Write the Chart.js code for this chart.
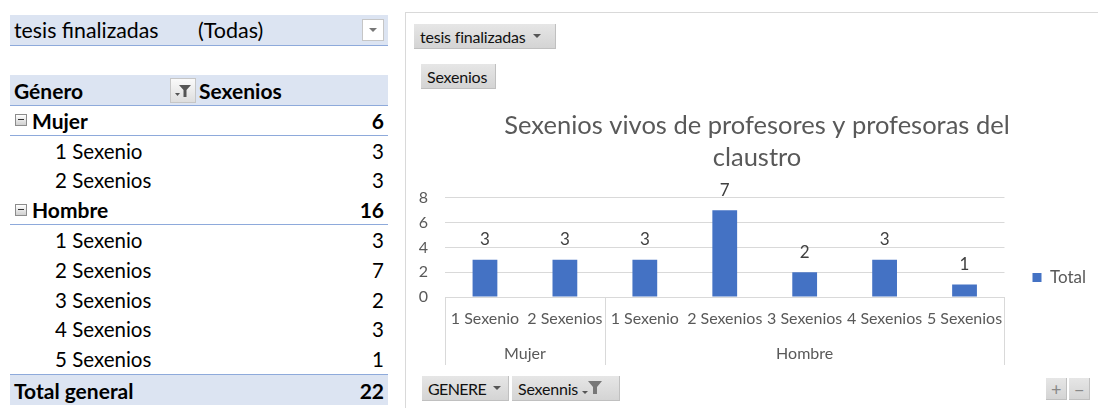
<!DOCTYPE html>
<html>
<head>
<meta charset="utf-8">
<script src="https://cdn.jsdelivr.net/npm/chart.js@4.4.0/dist/chart.umd.min.js"></script>
<style>
  body { margin: 0; width: 1098px; height: 408px; background: #fff; font-family: Lato, "Noto Sans", sans-serif; overflow: hidden; position: relative; }
  .fila { position: absolute; left: 10px; width: 378px; box-sizing: border-box; font-size: 20.5px; color: #000; display: flex; align-items: center; }
  .azul { background: #dce4f2; }
  .linea { border-bottom: 1px solid #8eaadb; }
  .lineaTop { border-top: 1px solid #8eaadb; }
  .num { position: absolute; right: 4px; }
  .b { font-weight: bold; font-size: 21px; }
  .menos { display: inline-block; width: 10px; height: 10px; border: 1px solid #8c8c8c; background: linear-gradient(#fff, #d0d0d0); margin: 0 5px 0 5px; position: relative; }
  .menos:after { content: ''; position: absolute; left: 2px; right: 2px; top: 4px; height: 1px; background: #333; }
  .caja { position: absolute; border: 1px solid #c6c6c6; background: #fff; }
  .tri { display: inline-block; width: 0; height: 0; border-left: 4px solid transparent; border-right: 4px solid transparent; border-top: 4px solid #444; }
  #panel { position: absolute; left: 405px; top: 12px; width: 700px; height: 400px; border: 1px solid #d9d9d9; box-sizing: border-box; }
  .btn { position: absolute; height: 25px; background: linear-gradient(#e6e6e6, #d4d4d4); border-right: 1px solid #c0c0c0; border-bottom: 1px solid #c0c0c0; font-size: 16px; letter-spacing: -0.2px; color: #111; display: flex; align-items: center; padding: 0 6px; box-sizing: border-box; white-space: nowrap; }
  .btn .tri { margin-left: 7px; border-top-color: #555; }
  #grafico { position: absolute; left: 410px; top: 100px; }
</style>
</head>
<body>
<div id="tabla"></div>
<div id="panel"></div>
<div class="btn" style="left:414px; top:24px; width:142px;">tesis finalizadas<span class="tri"></span></div>
<div class="btn" style="left:421px; top:64px; width:75px;">Sexenios</div>
<div class="btn" style="left:422px; top:376px; width:87px; letter-spacing:-0.6px;">GENERE<span class="tri"></span></div>
<div class="btn" style="left:512px; top:376px; width:108px;">Sexennis
  <svg width="26" height="18" viewBox="0 0 26 18" style="margin-left:1px"><path d="M3 12 h6 l-3 3 z" fill="#555"/><path d="M9 2 h14 l-5 6 v7 h-4 v-7 z" fill="#777"/></svg></div>
<div class="btn" style="left:1046px; top:378px; width:21px; height:22px; padding:0; justify-content:center; color:#888; font-size:18px;">+</div>
<div class="btn" style="left:1069px; top:378px; width:21px; height:22px; padding:0; justify-content:center; color:#888; font-size:18px;">−</div>
<canvas id="grafico" width="688" height="270"></canvas>
<script>
// datos de la tabla dinámica
const filtroTesis = '(Todas)';
const grupos = ['Mujer', 'Hombre'];
const categorias = ['1 Sexenio', '2 Sexenios', '1 Sexenio', '2 Sexenios', '3 Sexenios', '4 Sexenios', '5 Sexenios'];
const grupoDeCategoria = ['Mujer', 'Mujer', 'Hombre', 'Hombre', 'Hombre', 'Hombre', 'Hombre'];
const valores = [3, 3, 3, 7, 2, 3, 1];
const ticksY = [0, 2, 4, 6, 8];

// Tabla de la izquierda
const tabla = document.getElementById('tabla');
function fila(top, alto, clases, html) {
    const d = document.createElement('div');
    d.className = 'fila ' + clases;
    d.style.top = top + 'px';
    d.style.height = alto + 'px';
    d.innerHTML = html;
    tabla.appendChild(d);
}

fila(15, 31, 'azul linea', '<span style="margin-left:4px; font-size:21.3px">tesis finalizadas</span><span style="position:absolute; left:188px; font-size:21.5px">' + filtroTesis + '</span>' +
    '<span class="caja" style="right:4px; top:4px; width:20px; height:20px; display:flex; align-items:center; justify-content:center;"><span class="tri" style="border-top-color:#777"></span></span>');
fila(75, 31, 'azul linea b', '<span style="margin-left:4px">Género</span>' +
    '<span class="caja" style="left:160px; top:3px; width:24px; height:23px; background:linear-gradient(#fafafa,#dedede);"><svg width="24" height="23" viewBox="0 0 24 23"><path d="M4 14 h5 l-2.5 3 z" fill="#555"/><path d="M8 6 h12 l-4.5 5 v7 h-3 v-7 z" fill="#555"/></svg></span>' +
    '<span style="position:absolute; left:189px">Sexenios</span>');

const alto = 29.8;
let y = 106;
grupos.forEach(g => {
    const idx = grupoDeCategoria.map((c, i) => c === g ? i : -1).filter(i => i >= 0);
    const total = idx.reduce((s, i) => s + valores[i], 0);
    fila(y, alto, 'b linea', '<span class="menos"></span>' + g + '<span class="num">' + total + '</span>');
    y += alto;
    idx.forEach(i => {
        fila(y, alto, '', '<span style="margin-left:45px">' + categorias[i] + '</span><span class="num">' + valores[i] + '</span>');
        y += alto;
    });
});
fila(y, 31, 'azul lineaTop b', '<span style="margin-left:4px">Total general</span><span class="num">' + valores.reduce((a, b) => a + b, 0) + '</span>');

// Etiquetas de valores y eje de dos niveles
const etiquetasYGrupos = {
    id: 'etiquetasYGrupos',
    afterDatasetsDraw(chart) {
        const ctx = chart.ctx;
        const meta = chart.getDatasetMeta(0);
        ctx.save();
        ctx.fillStyle = '#404040';
        ctx.font = '17px Lato';
        ctx.textAlign = 'center';
        ctx.textBaseline = 'middle';
        meta.data.forEach((bar, i) => ctx.fillText(valores[i], bar.x, bar.y - 20));

        const x = chart.scales.x;
        const paso = x.width / categorias.length;
        const arriba = x.top;
        const abajo = x.bottom - 2;
        ctx.strokeStyle = '#d9d9d9';
        ctx.lineWidth = 1;
        ctx.fillStyle = '#595959';
        ctx.font = '16px Lato';
        let derecha = 0;
        grupos.forEach(g => {
            const idx = grupoDeCategoria.map((c, i) => c === g ? i : -1).filter(i => i >= 0);
            const izq = x.getPixelForValue(idx[0]) - paso / 2;
            derecha = x.getPixelForValue(idx[idx.length - 1]) + paso / 2;
            ctx.beginPath();
            ctx.moveTo(Math.round(izq) + 0.5, arriba);
            ctx.lineTo(Math.round(izq) + 0.5, abajo);
            ctx.stroke();
            ctx.fillText(g, (izq + derecha) / 2, arriba + 57);
        });
        ctx.beginPath();
        ctx.moveTo(Math.round(derecha) + 0.5, arriba);
        ctx.lineTo(Math.round(derecha) + 0.5, abajo);
        ctx.stroke();
        ctx.restore();
    }
};

const ctx = document.getElementById('grafico').getContext('2d');
new Chart(ctx, {
    type: 'bar',
    data: {
        labels: categorias,
        datasets: [{
            label: 'Total',
            data: valores,
            backgroundColor: '#4472c4',
            categoryPercentage: 1,
            barPercentage: 0.31
        }]
    },
    options: {
        responsive: false,
        animation: false,
        layout: { padding: { left: 8, right: 2, bottom: 3 } },
        plugins: {
            title: {
                display: true,
                text: ['Sexenios vivos de profesores y profesoras del', 'claustro'],
                color: '#595959',
                font: { family: 'Lato', size: 25.5, weight: 'normal', lineHeight: 1.25 },
                padding: { top: 10, bottom: 24 }
            },
            legend: {
                position: 'right',
                title: { display: true, text: '', font: { size: 10, lineHeight: 1.2 }, padding: { top: 0, bottom: 76 } },
                labels: { boxWidth: 9, boxHeight: 9, padding: 28, color: '#595959', font: { family: 'Lato', size: 17 } }
            },
            tooltip: { enabled: false }
        },
        scales: {
            x: {
                grid: { display: false },
                border: { display: true, color: '#d9d9d9' },
                ticks: { color: '#595959', font: { family: 'Lato', size: 16 }, maxRotation: 0, autoSkip: false, padding: 4 },
                afterFit(s) { s.height = 70; }
            },
            y: {
                min: 0,
                max: 8,
                afterBuildTicks(s) { s.ticks = ticksY.map(v => ({ value: v })); },
                grid: { color: '#d9d9d9', drawTicks: false },
                border: { display: false },
                ticks: { color: '#595959', font: { family: 'Lato', size: 16 }, padding: 17 },
                afterFit(s) { s.width = 27; }
            }
        }
    },
    plugins: [etiquetasYGrupos]
});
</script>
</body>
</html>
